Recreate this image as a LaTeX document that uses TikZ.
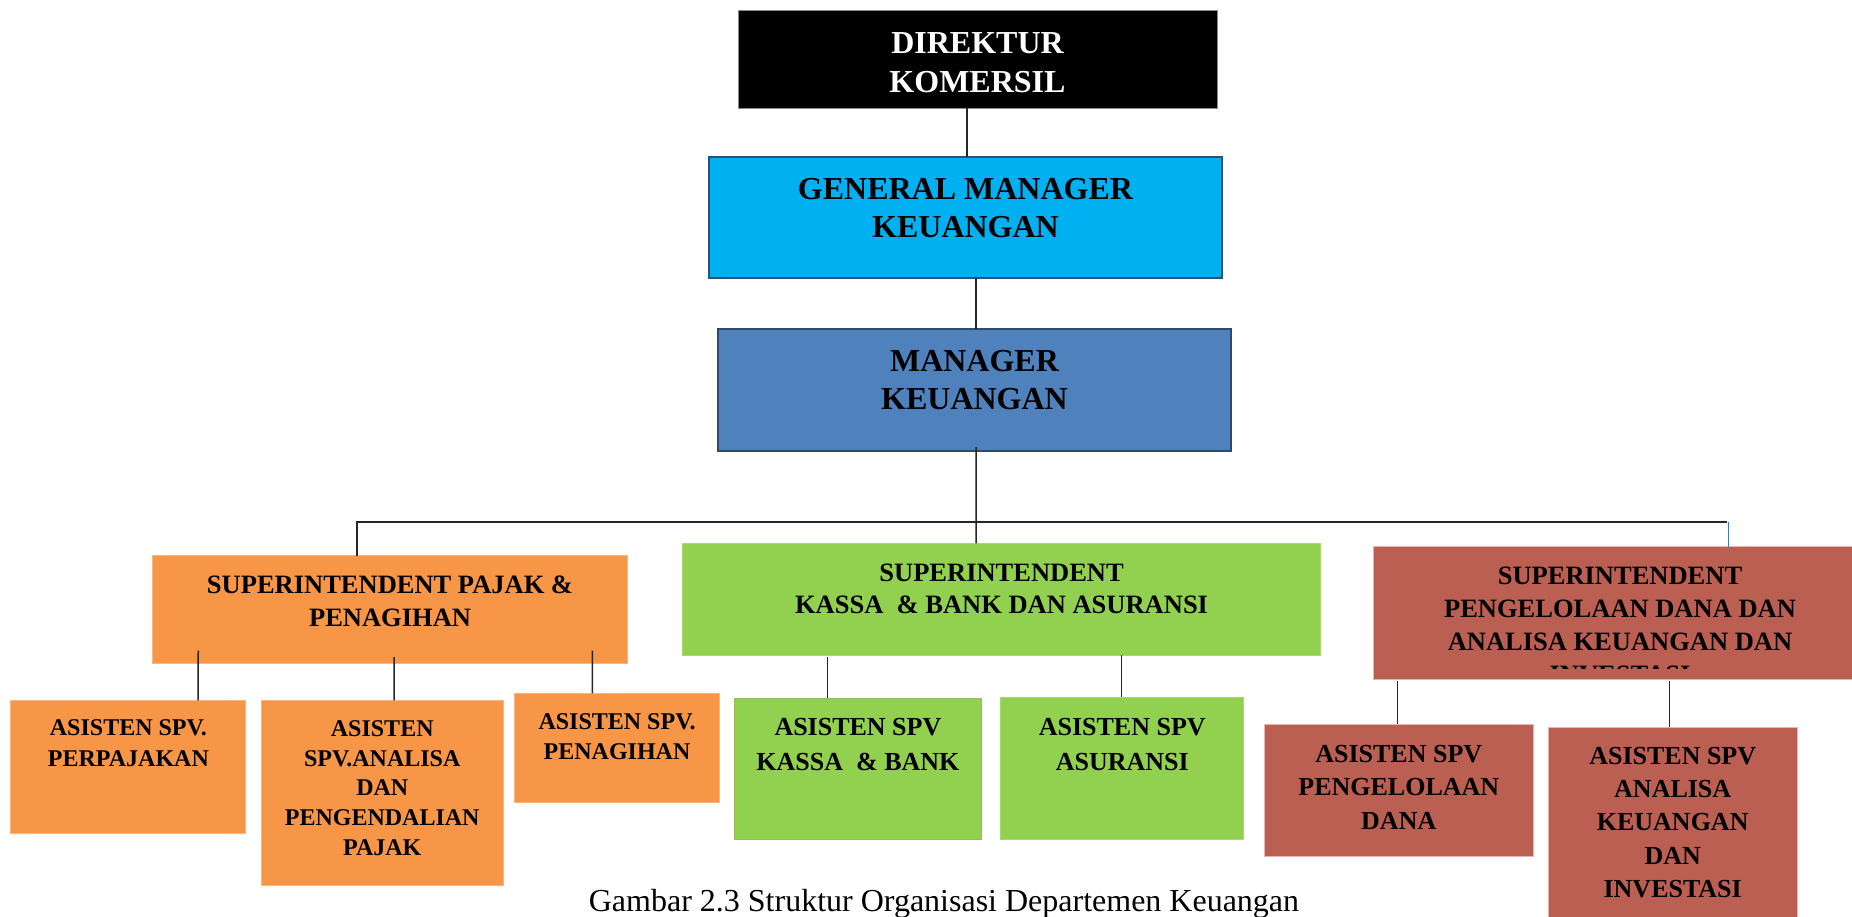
\documentclass[tikz,border=0pt]{standalone}
\usepackage{fontspec}
\setmainfont{Liberation Serif}
\usetikzlibrary{calc}
\definecolor{cyanf}{HTML}{00B0F0}
\definecolor{gml}{HTML}{2F4F73}
\definecolor{mgrf}{HTML}{4F81BD}
\definecolor{mgrl}{HTML}{2C4A6E}
\definecolor{orf}{HTML}{F79646}
\definecolor{orl}{HTML}{F9B483}
\definecolor{grf}{HTML}{92D050}
\definecolor{grl}{HTML}{9ABB59}
\definecolor{grl2}{HTML}{A6DA6C}
\definecolor{redf}{HTML}{BA5F51}
\definecolor{redl}{HTML}{E8B4AE}
\definecolor{busblue}{HTML}{4472C4}
\newcommand{\cellbox}[4]{\parbox[c][#2pt][t]{#1pt}{\centering\rule{0pt}{#3pt}#4}}
\begin{document}
\begin{tikzpicture}[x=0.5pt,y=-0.5pt,
  orgbox/.style={rectangle, inner sep=0pt, outer sep=0pt, anchor=north west, line width=0.5pt},
  conn/.style={line width=0.75pt, draw=black!85},
  ftop/.style={font=\fontsize{16}{19.4}\selectfont\bfseries},
  fsupo/.style={font=\fontsize{13.25}{16.35}\selectfont\bfseries},
  fsupg/.style={font=\fontsize{13.25}{16.15}\selectfont\bfseries},
  fsupr/.style={font=\fontsize{13.25}{16.5}\selectfont\bfseries},
  fasso/.style={font=\fontsize{12}{15.3}\selectfont\bfseries},
  fasso2/.style={font=\fontsize{12}{14.8}\selectfont\bfseries},
  fassg/.style={font=\fontsize{13}{17.5}\selectfont\bfseries},
  fassr/.style={font=\fontsize{13}{16.7}\selectfont\bfseries}]
\useasboundingbox (0,0) rectangle (1852,916);
\clip (0,0) rectangle (1852,916);

% top levels
\node[orgbox, fill=black, draw=black!45, text=white, ftop] (dir) at (738,10)
  {\cellbox{239.5}{49}{21.65}{DIREKTUR\\KOMERSIL}};
\node[orgbox, fill=cyanf, draw=gml, line width=1pt, ftop] (gm) at (709,157)
  {\cellbox{256.5}{60.5}{21}{GENERAL MANAGER\\KEUANGAN}};
\node[orgbox, fill=mgrf, draw=mgrl, line width=1pt, ftop] (mgr) at (718,329)
  {\cellbox{256.5}{61}{21}{MANAGER\\KEUANGAN}};

% superintendents
\node[orgbox, fill=orf, draw=orl, fsupo] (sp) at (152.4,555.7)
  {\cellbox{237.65}{53.8}{18.8}{SUPERINTENDENT PAJAK \&\\PENAGIHAN}};
\node[orgbox, fill=grf, draw=grl2, fsupg] (sk) at (682.7,543.3)
  {\cellbox{318.9}{55.85}{18.85}{SUPERINTENDENT\\KASSA \ \& BANK DAN ASURANSI}};
\begin{scope}
\clip (0,0) rectangle (1852,669);
\node[orgbox, fill=redf, draw=redl, fsupr] (sd) at (1373,546.7)
  {\cellbox{247}{66.3}{18.65}{SUPERINTENDENT\\PENGELOLAAN DANA DAN\\ANALISA KEUANGAN DAN\\INVESTASI}};
\end{scope}
\fill[redf] ($(sd.south west)+(0,-10.3)$) rectangle (sd.south east);
\draw[redl, line width=0.5pt] ($(sd.south west)+(0,-10.3)$) -- (sd.south west) -- (sd.south east);

% assistants
\node[orgbox, fill=orf, draw=orl, fasso] (a1) at (10.9,700.3)
  {\cellbox{117.5}{66.5}{17.7}{ASISTEN SPV.\\PERPAJAKAN}};
\node[orgbox, fill=orf, draw=orl, fasso2] (a2) at (261,700.3)
  {\cellbox{121.25}{92.35}{18.2}{ASISTEN\\SPV.ANALISA\\DAN\\PENGENDALIAN\\PAJAK}};
\node[orgbox, fill=orf, draw=orl, fasso] (a3) at (514.4,693.3)
  {\cellbox{102.65}{54.5}{18}{ASISTEN SPV.\\PENAGIHAN}};
\node[orgbox, fill=grf, draw=grl, line width=0.75pt, fassg] (k1) at (734.3,698.3)
  {\cellbox{123.65}{70.5}{18.35}{ASISTEN SPV\\KASSA \ \& BANK}};
\node[orgbox, fill=grf, draw=grl2, fassg] (k2) at (1000.8,697)
  {\cellbox{121.45}{71}{19}{ASISTEN SPV\\ASURANSI}};
\node[orgbox, fill=redf, draw=redl, fassr] (d1) at (1264.5,724.3)
  {\cellbox{134.25}{66.2}{19}{ASISTEN SPV\\PENGELOLAAN\\DANA}};
\node[orgbox, fill=redf, draw=redl, fassr] (d2) at (1548.2,727.3)
  {\cellbox{124.5}{101.35}{18.35}{ASISTEN SPV\\ANALISA\\KEUANGAN\\DAN\\INVESTASI}};

% connectors
\draw[conn] ($(dir.south)+(-10.5,0)$) -- ($(gm.north)+(1.5,0)$);
\draw[conn] ($(gm.south)+(10.5,0)$) -- ($(mgr.north)+(1.5,0)$);
\draw[conn] ($(mgr.south)+(1.5,-4)$) -- ($(sk.north)+(-25.6,0)$);
\draw[conn] ($(sp.north)+(-33.2,0)$) |- ($(sd.north)+(107,-24.7)$);
\draw[busblue, line width=0.5pt] ($(sd.north)+(108.5,-24.7)$) -- ($(sd.north)+(108.5,0)$);
\draw[conn] ($(a1.north)+(69.8,0)$) -- ($(sp.south)+(-191.8,-12.6)$);
\draw[conn] ($(a2.north)+(11.75,0)$) -- ($(sp.south)+(4,-6.3)$);
\draw[conn] ($(a3.north)+(-24.75,0)$) -- ($(sp.south)+(202.3,-12.6)$);
\draw[conn] ($(k1.north)+(-30.65,0)$) -- ($(sk.south)+(-174.3,2.3)$);
\draw[conn] ($(k2.north)+(-0.65,0)$) -- ($(sk.south)+(120,-0.3)$);
\draw[conn] ($(d1.north)+(-1.25,0)$) -- ($(sd.south)+(-222.5,1.7)$);
\draw[conn] ($(d2.north)+(-3,0)$) -- ($(sd.south)+(49.7,1.7)$);

% caption
\node[anchor=base, inner sep=0pt, font=\fontsize{16}{20}\selectfont] (cap) at (944,911)
  {Gambar 2.3 Struktur Organisasi Departemen Keuangan};
\end{tikzpicture}
\end{document}
